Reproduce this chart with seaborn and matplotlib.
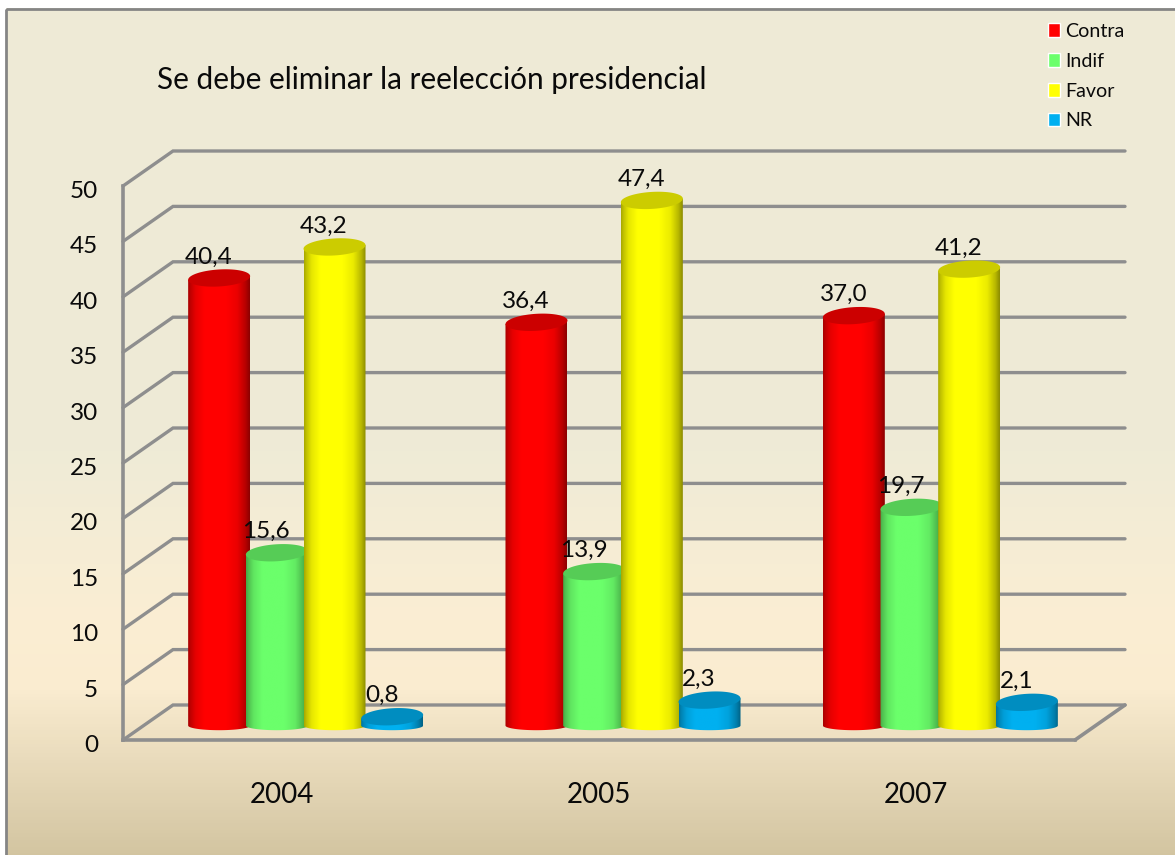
import numpy as np
import pandas as pd
import matplotlib
matplotlib.use("Agg")
import matplotlib.pyplot as plt
import seaborn as sns
from matplotlib.colors import LinearSegmentedColormap, to_rgb
from matplotlib.path import Path
from matplotlib.patches import PathPatch, Rectangle
from matplotlib.transforms import ScaledTranslation

years = ["2004", "2005", "2007"]
answers = ["Contra", "Indif", "Favor", "NR"]
contra = [40.4, 36.4, 37.0]
indif = [15.6, 13.9, 19.7]
favor = [43.2, 47.4, 41.2]
nr = [0.8, 2.3, 2.1]
colors = ["#FF0000", "#6BFF6B", "#FFFF00", "#00B0F0"]
title = "Se debe eliminar la reelección presidencial"

sns.set_theme(style="white")
plt.rcParams["font.family"] = ["Lato", "DejaVu Sans"]

W, H = 1175, 855
GRAY = "#8E8E8E"
fig = plt.figure(figsize=(W / 100, H / 100), dpi=100, facecolor="white")


def axes_px(x0, y0, x1, y1, **kw):
    return fig.add_axes([x0 / W, 1 - y1 / H, (x1 - x0) / W, (y1 - y0) / H], **kw)


# panel background
bg = axes_px(0, 0, W, H)
bg.axis("off")
stops = [(0, "#EEEAD6"), (0.52, "#EFEBD7"), (0.72, "#FBEED3"), (0.80, "#FAECD0"), (1, "#D2C4A0")]
cmap = LinearSegmentedColormap.from_list("panel", stops)
bg.imshow(np.linspace(0, 1, 256)[:, None], cmap=cmap, aspect="auto", extent=(6, W + 5, H + 5, 9), zorder=0)
bg.set_xlim(0, W)
bg.set_ylim(H, 0)
bg.add_patch(Rectangle((6, 9), W + 5, H + 5, fill=False, ec="#858585", lw=2, zorder=1))
bg.text(157, 89, title, fontsize=21.4, color="#0A0A0A", va="baseline", ha="left", zorder=2)

# main axes: walls, grid, tick labels
L, R, T, B = 123, 1075, 186, 740
DX, DY = 50, 35
ax = axes_px(L, T, R, B)
ax.patch.set_alpha(0)
ax.set_xlim(-0.5, len(years) - 0.5)
ax.set_ylim(0, 50)
xpx = (R - L) / len(years)
ypx = (B - T) / 50
dx, dy = DX / xpx, DY / ypx
yticks = list(range(0, 55, 5))
ax.set_yticks(yticks)
ax.set_yticklabels([str(v) for v in yticks], fontsize=17.5, color="#0A0A0A")
ax.set_xticks(range(len(years)))
ax.set_xticklabels(years, fontsize=20, color="#0A0A0A")
ax.tick_params(axis="y", length=0, pad=18)
ax.tick_params(axis="x", length=0, pad=30)
for lab in ax.get_yticklabels():
    lab.set_transform(lab.get_transform() + ScaledTranslation(0, -3.5 / 100, fig.dpi_scale_trans))
for s in ["top", "right"]:
    ax.spines[s].set_visible(False)
for s in ["left", "bottom"]:
    ax.spines[s].set_color(GRAY)
    ax.spines[s].set_linewidth(2.6)
xa, xb = ax.get_xlim()
for v in yticks:
    ax.plot([xa, xa + dx, xb + dx], [v, v + dy, v + dy], color=GRAY, lw=2.4, clip_on=False,
            solid_joinstyle="miter", zorder=1)
ax.plot([xb, xb + dx], [0, dy], color=GRAY, lw=2.6, clip_on=False, zorder=1)

# bars
bar_ax = axes_px(L + 24, T - 14.4, R + 24, B - 14.4)
bar_ax.set_zorder(ax.get_zorder() + 1)
df = pd.DataFrame({
    "year": np.repeat(years, len(answers)),
    "answer": answers * len(years),
    "value": np.ravel(np.column_stack([contra, indif, favor, nr])),
})
sns.barplot(data=df, x="year", y="value", hue="answer", order=years, hue_order=answers,
            palette=colors, width=0.727, gap=0, saturation=1, errorbar=None, ax=bar_ax)
handles, labels = bar_ax.get_legend_handles_labels()
bar_ax.get_legend().remove()
bar_ax.axis("off")

half_w = 31 / xpx
top_b = 8.5 / ypx
bot_b = 4.6 / ypx
tilt = 1.8 / ypx
xprof = np.array([0, 0.04, 0.12, 0.26, 0.62, 0.80, 0.93, 1])
sprof = np.array([0.66, 0.76, 0.90, 1, 1, 0.92, 0.72, 0.55])
shade = np.interp(np.linspace(0, 1, 128), xprof, sprof)
t = np.linspace(0, 2 * np.pi, 73)
tb = np.linspace(np.pi, 2 * np.pi, 37)
for i, (container, color) in enumerate(zip(bar_ax.containers, colors)):
    rgb = np.array(to_rgb(color))
    z = 3 + i
    for patch, value in zip(container, container.datavalues):
        cx = patch.get_x() + patch.get_width() / 2
        h = patch.get_height()
        patch.set_visible(False)
        # cylinder side: straight top edge, curved foot
        foot = np.c_[cx + half_w * np.cos(tb), bot_b * np.sin(tb)]
        verts = np.r_[foot, [[cx + half_w, h + tilt], [cx - half_w, h - tilt]], foot[:1]]
        body = PathPatch(Path(verts, closed=True), transform=bar_ax.transData, fc="none", ec="none",
                         clip_on=False)
        bar_ax.add_patch(body)
        tex = shade[None, :, None] * rgb[None, None, :]
        im = bar_ax.imshow(tex, aspect="auto", interpolation="bilinear",
                           extent=(cx - half_w, cx + half_w, -2 * bot_b, h + top_b + tilt),
                           origin="lower", zorder=z)
        im.set_clip_box(fig.bbox)
        im.set_clip_path(body)
        ex = cx + half_w * np.cos(t)
        ey = h + top_b * np.sin(t) + tilt * np.cos(t)
        bar_ax.fill(ex, ey, color=rgb * 0.80, ec="none", zorder=z + 0.1, clip_on=False)
        bar_ax.annotate(f"{value:.1f}".replace(".", ","), (cx, h), xytext=(-10.5 * 0.72, 14.5 * 0.72),
                        textcoords="offset points", ha="center", va="baseline", fontsize=17.5,
                        color="#0A0A0A", zorder=10, annotation_clip=False)
bar_ax.set_xlim(-0.5, len(years) - 0.5)
bar_ax.set_ylim(0, 50)

fig.legend(handles, labels, loc="upper left", bbox_to_anchor=(1048 / W, 1 - 23 / H), frameon=False,
           fontsize=14.1, handlelength=0.63, handleheight=0.7, handletextpad=0.27,
           labelspacing=0.655, borderpad=0, borderaxespad=0, labelcolor="#0A0A0A")

fig.savefig("out.png", dpi=100)
